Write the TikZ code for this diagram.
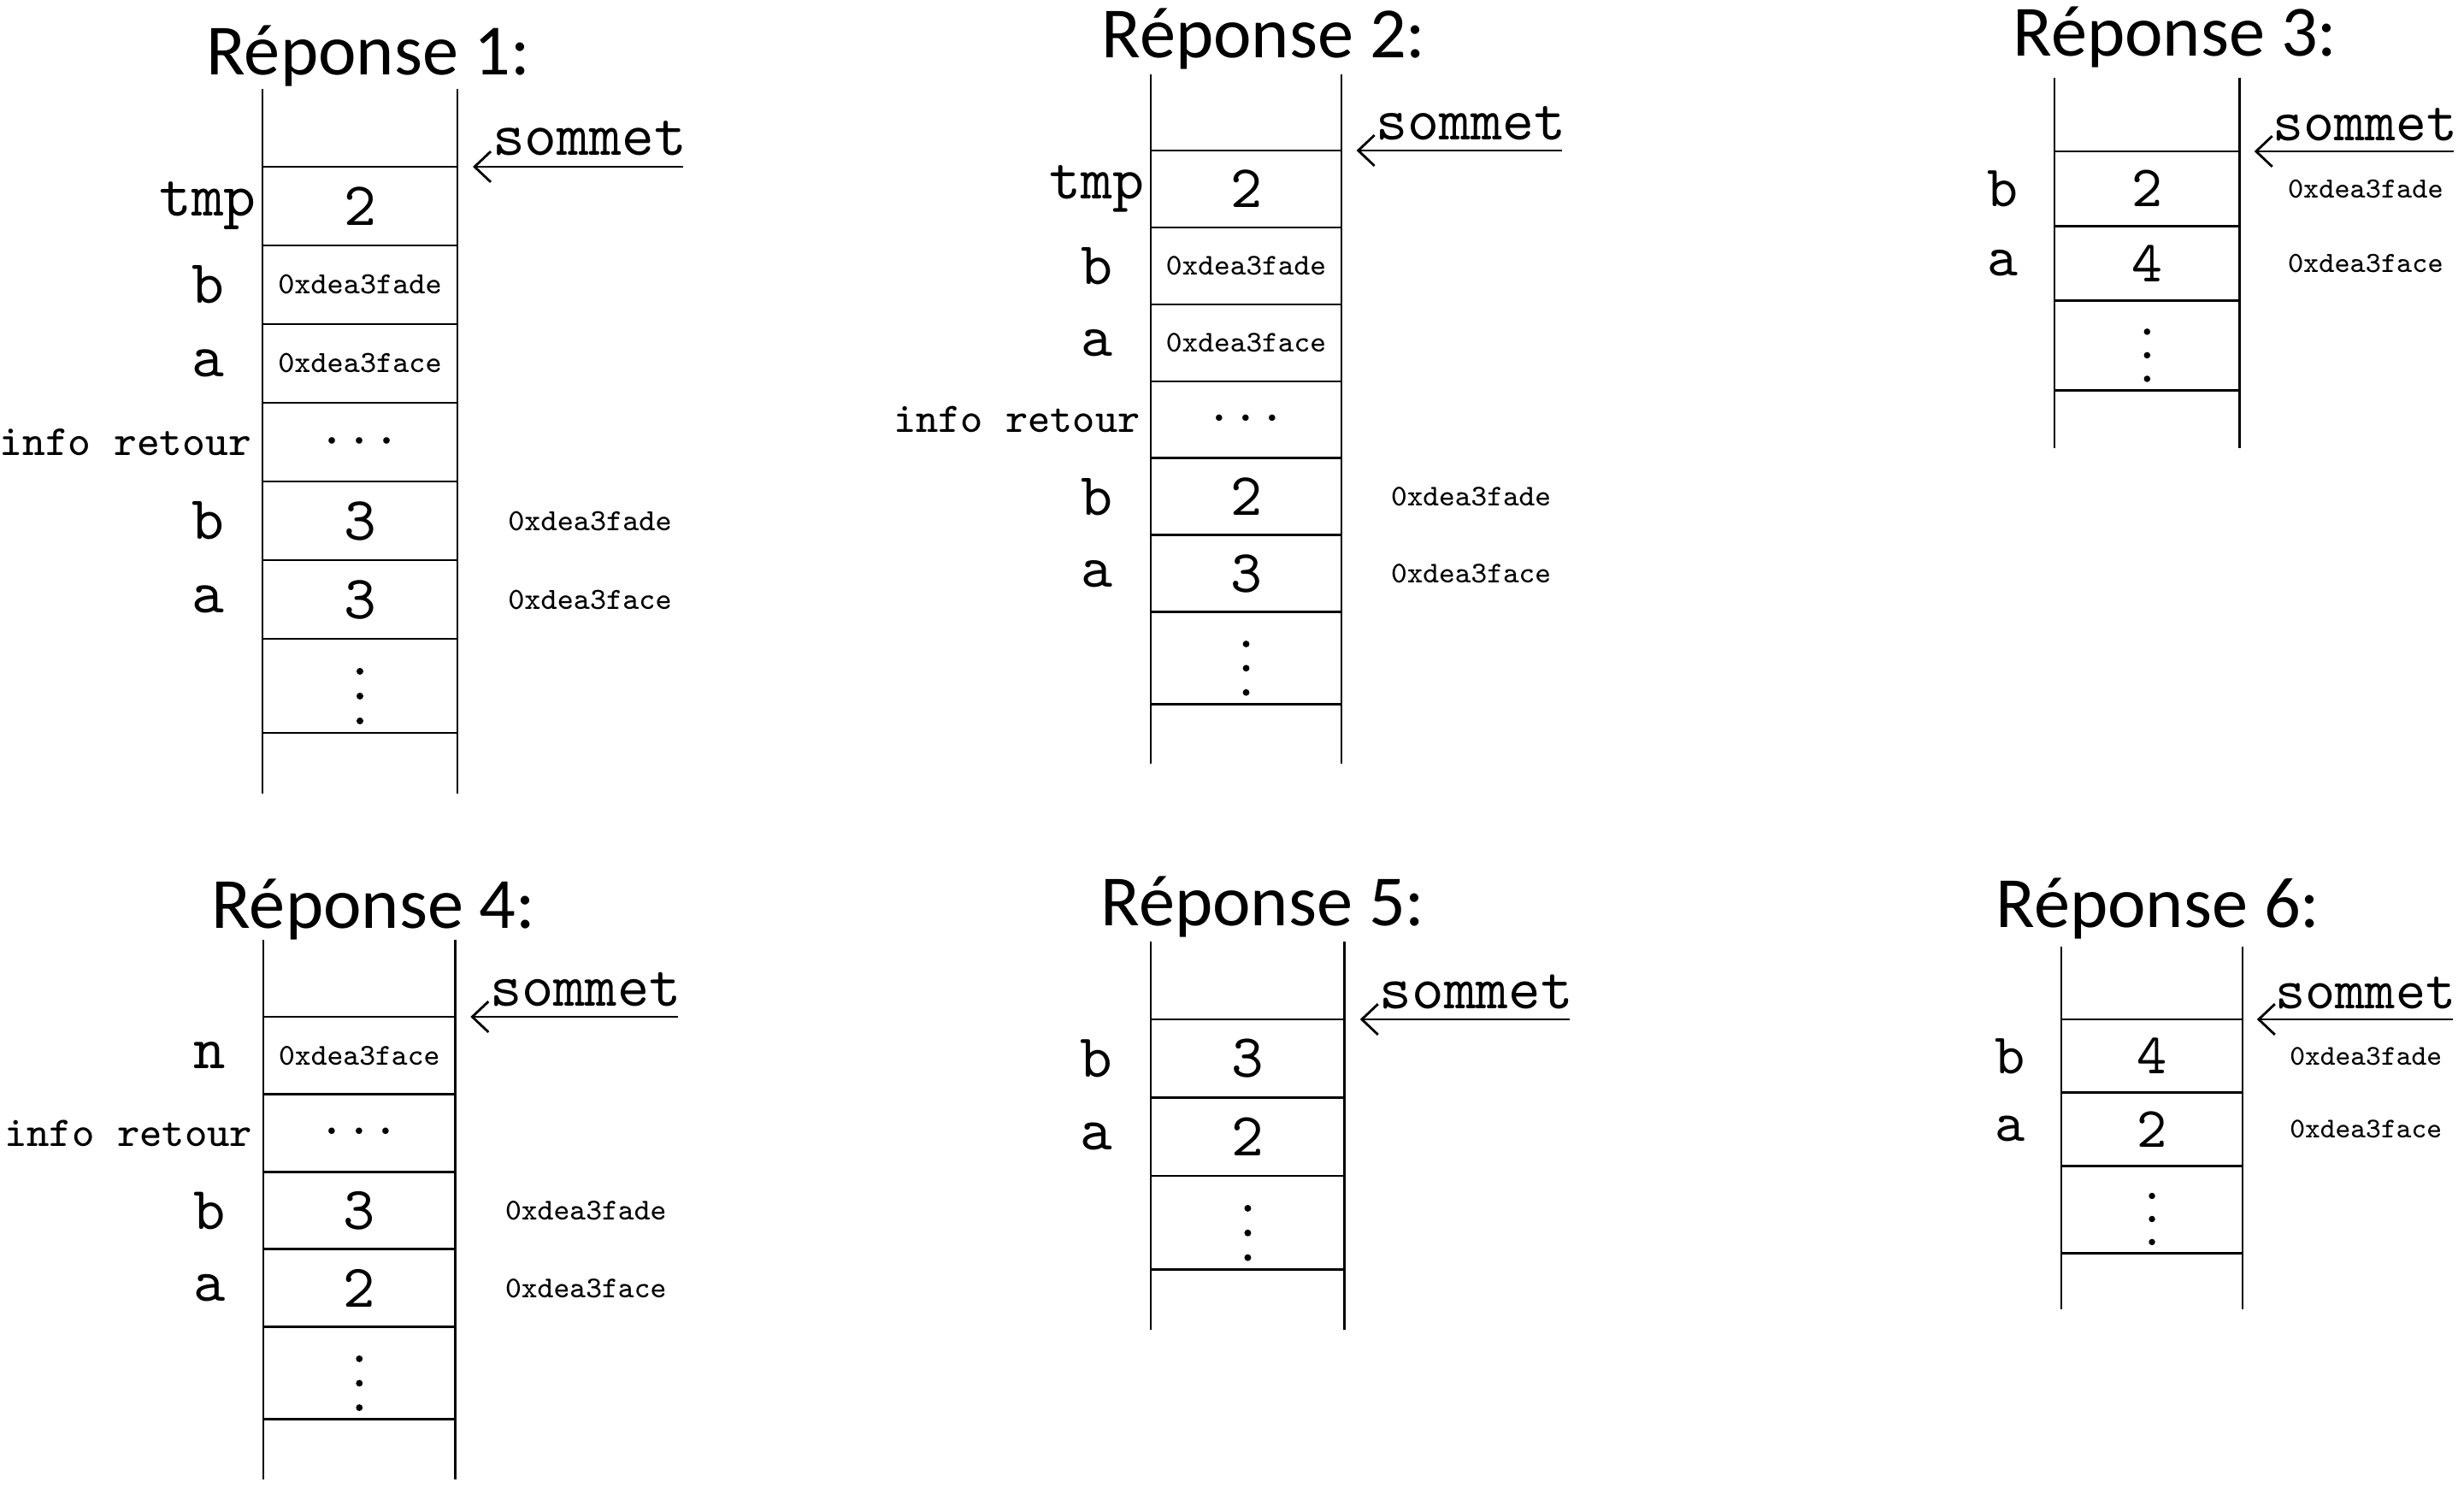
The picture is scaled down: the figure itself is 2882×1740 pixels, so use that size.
\documentclass[tikz,border=0pt]{standalone}
\usepackage{fontspec}
\newfontfamily\titlefont{Carlito}
\usetikzlibrary{arrows.meta}

\tikzset{
  cell/.style={draw, rectangle, minimum width=22.8mm, minimum height=9.2mm, inner sep=0pt, outer sep=0pt},
  dcell/.style={cell, minimum height=11mm},
  val/.style={font=\ttfamily, scale=2.05, inner sep=0pt},
  lbl/.style={val},
  info/.style={font=\scriptsize\ttfamily, scale=2.05, inner sep=0pt, anchor=east},
  adr/.style={font=\tiny\ttfamily, scale=2.05, inner sep=0pt},
  som/.style={val, anchor=base east},
  titre/.style={font=\titlefont\fontsize{24}{28}\selectfont, inner sep=0pt, anchor=base}
}

\begin{document}
\begin{tikzpicture}[x=0.1mm, y=-0.1mm, line width=0.8pt, >={Straight Barb[length=5.4pt,width=10.2pt]}]
  \useasboundingbox (0,0) rectangle (2882,1740);

  % Reponse 1
  \node[titre] (t1) at (431,88) {Réponse 1:};
  \begin{scope}[shift={(307,195)}, scale=1, transform shape]
    \draw (0,-91) -- (0,733) (228,-91) -- (228,733);
    \foreach \i in {1,...,6} \node[cell] (c1\i) at (114,92*\i-46) {};
    \node[dcell] (c17) at (114,607) {};
    \node[som] (s1) at (499,-13) {sommet};
    \coordinate (e1) at (492,0);
    \coordinate (f1) at (246,0);
    \draw[->] (e1) -- (f1);
    \node[lbl] (l11) at (-64,46) {tmp};
    \node[val] (v11) at (c11) {2};
    \node[lbl] (l12) at (-64,138) {b};
    \node[adr] (v12) at (c12) {0xdea3fade};
    \node[lbl] (l13) at (-64,230) {a};
    \node[adr] (v13) at (c13) {0xdea3face};
    \node[info] (l14) at (-10,322) {info retour};
    \node[val] (v14) at (c14) {$\cdots$};
    \node[lbl] (l15) at (-64,414) {b};
    \node[val] (v15) at (c15) {3};
    \node[adr] (a15) at (383,414) {0xdea3fade};
    \node[lbl] (l16) at (-64,506) {a};
    \node[val] (v16) at (c16) {3};
    \node[adr] (a16) at (383,506) {0xdea3face};
    \foreach \d in {0,1,2} \fill (114,590+29*\d) circle (4);
  \end{scope}

  % Reponse 2
  \node[titre] (t2) at (1478,68) {Réponse 2:};
  \begin{scope}[shift={(1346,176)}, scale=0.978, transform shape]
    \draw (0,-91) -- (0,733) (228,-91) -- (228,733);
    \foreach \i in {1,...,6} \node[cell] (c2\i) at (114,92*\i-46) {};
    \node[dcell] (c27) at (114,607) {};
    \node[som] (s2) at (499,-13) {sommet};
    \coordinate (e2) at (492,0);
    \coordinate (f2) at (246,0);
    \draw[->] (e2) -- (f2);
    \node[lbl] (l21) at (-64,46) {tmp};
    \node[val] (v21) at (c21) {2};
    \node[lbl] (l22) at (-64,138) {b};
    \node[adr] (v22) at (c22) {0xdea3fade};
    \node[lbl] (l23) at (-64,230) {a};
    \node[adr] (v23) at (c23) {0xdea3face};
    \node[info] (l24) at (-10,322) {info retour};
    \node[val] (v24) at (c24) {$\cdots$};
    \node[lbl] (l25) at (-64,414) {b};
    \node[val] (v25) at (c25) {2};
    \node[adr] (a25) at (383,414) {0xdea3fade};
    \node[lbl] (l26) at (-64,506) {a};
    \node[val] (v26) at (c26) {3};
    \node[adr] (a26) at (383,506) {0xdea3face};
    \foreach \d in {0,1,2} \fill (114,590+29*\d) circle (4);
  \end{scope}

  % Reponse 3
  \node[titre] (t3) at (2544,66) {Réponse 3:};
  \begin{scope}[shift={(2403,177)}, scale=0.95, transform shape]
    \draw (0,-91) -- (0,365) (228,-91) -- (228,365);
    \foreach \i in {1,2} \node[cell] (c3\i) at (114,92*\i-46) {};
    \node[dcell] (c33) at (114,239) {};
    \node[som] (s3) at (499,-13) {sommet};
    \coordinate (e3) at (492,0);
    \coordinate (f3) at (246,0);
    \draw[->] (e3) -- (f3);
    \node[lbl] (l31) at (-64,46) {b};
    \node[val] (v31) at (c31) {2};
    \node[adr] (a31) at (383,46) {0xdea3fade};
    \node[lbl] (l32) at (-64,138) {a};
    \node[val] (v32) at (c32) {4};
    \node[adr] (a32) at (383,138) {0xdea3face};
    \foreach \d in {0,1,2} \fill (114,222+29*\d) circle (4);
  \end{scope}

  % Reponse 4
  \node[titre] (t4) at (437,1085) {Réponse 4:};
  \begin{scope}[shift={(308,1189)}, scale=0.985, transform shape]
    \draw (0,-91) -- (0,549) (228,-91) -- (228,549);
    \foreach \i in {1,...,4} \node[cell] (c4\i) at (114,92*\i-46) {};
    \node[dcell] (c45) at (114,423) {};
    \node[som] (s4) at (499,-13) {sommet};
    \coordinate (e4) at (492,0);
    \coordinate (f4) at (246,0);
    \draw[->] (e4) -- (f4);
    \node[lbl] (l41) at (-64,46) {n};
    \node[adr] (v41) at (c41) {0xdea3face};
    \node[info] (l42) at (-10,138) {info retour};
    \node[val] (v42) at (c42) {$\cdots$};
    \node[lbl] (l43) at (-64,230) {b};
    \node[val] (v43) at (c43) {3};
    \node[adr] (a43) at (383,230) {0xdea3fade};
    \node[lbl] (l44) at (-64,322) {a};
    \node[val] (v44) at (c44) {2};
    \node[adr] (a44) at (383,322) {0xdea3face};
    \foreach \d in {0,1,2} \fill (114,406+29*\d) circle (4);
  \end{scope}

  % Reponse 5
  \node[titre] (t5) at (1477,1082) {Réponse 5:};
  \begin{scope}[shift={(1346,1192)}, scale=0.995, transform shape]
    \draw (0,-91) -- (0,365) (228,-91) -- (228,365);
    \foreach \i in {1,2} \node[cell] (c5\i) at (114,92*\i-46) {};
    \node[dcell] (c53) at (114,239) {};
    \node[som] (s5) at (499,-13) {sommet};
    \coordinate (e5) at (492,0);
    \coordinate (f5) at (246,0);
    \draw[->] (e5) -- (f5);
    \node[lbl] (l51) at (-64,46) {b};
    \node[val] (v51) at (c51) {3};
    \node[lbl] (l52) at (-64,138) {a};
    \node[val] (v52) at (c52) {2};
    \foreach \d in {0,1,2} \fill (114,222+29*\d) circle (4);
  \end{scope}

  % Reponse 6
  \node[titre] (t6) at (2524,1084) {Réponse 6:};
  \begin{scope}[shift={(2411,1192)}, scale=0.93, transform shape]
    \draw (0,-91) -- (0,365) (228,-91) -- (228,365);
    \foreach \i in {1,2} \node[cell] (c6\i) at (114,92*\i-46) {};
    \node[dcell] (c63) at (114,239) {};
    \node[som] (s6) at (499,-13) {sommet};
    \coordinate (e6) at (492,0);
    \coordinate (f6) at (246,0);
    \draw[->] (e6) -- (f6);
    \node[lbl] (l61) at (-64,46) {b};
    \node[val] (v61) at (c61) {4};
    \node[adr] (a61) at (383,46) {0xdea3fade};
    \node[lbl] (l62) at (-64,138) {a};
    \node[val] (v62) at (c62) {2};
    \node[adr] (a62) at (383,138) {0xdea3face};
    \foreach \d in {0,1,2} \fill (114,222+29*\d) circle (4);
  \end{scope}
\end{tikzpicture}
\end{document}
